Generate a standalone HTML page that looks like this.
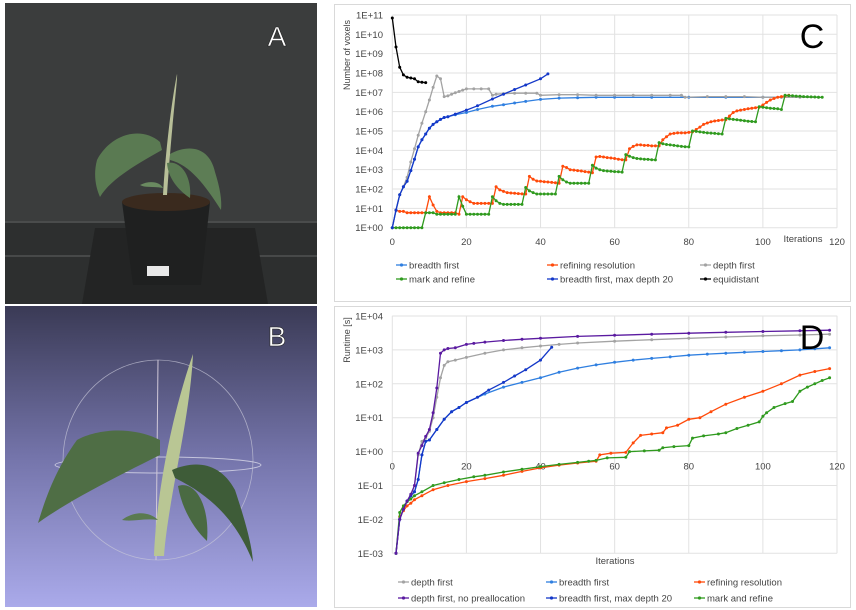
<!DOCTYPE html>
<html><head><meta charset="utf-8"><style>
html,body{margin:0;padding:0;background:#fff;}
svg{display:block;font-family:"Liberation Sans",sans-serif;}
</style></head><body>
<svg id="fig" width="856" height="610" viewBox="0 0 856 610" xmlns="http://www.w3.org/2000/svg">
<defs>
<linearGradient id="gB" x1="0" y1="0" x2="0" y2="1">
<stop offset="0" stop-color="#3a3a55"/><stop offset="0.5" stop-color="#7474aa"/><stop offset="1" stop-color="#aaaaea"/>
</linearGradient>
</defs>
<g>
<rect x="5" y="3" width="312" height="301" fill="#3b3d3d"/>
<rect x="5" y="222" width="312" height="82" fill="#2d2f2f"/>
<line x1="5" y1="222" x2="317" y2="222" stroke="#4a4c4c" stroke-width="2"/>
<line x1="5" y1="256" x2="317" y2="256" stroke="#505252" stroke-width="1.5"/>
<polygon points="95,228 255,228 268,304 82,304" fill="#232424"/>
<path d="M122,202 L210,202 L201,285 L133,285 Z" fill="#1f2020"/>
<ellipse cx="166" cy="202" rx="44" ry="9" fill="#3a2a1e"/>
<rect x="147" y="266" width="22" height="10" fill="#e8e8e8"/>
<path d="M163,195 C165,160 170,110 177,74 C178,78 172,120 167,195 Z" fill="#b8bf98"/>
<path d="M160,142 C140,125 110,135 97,160 C93,175 96,188 100,197 C110,180 135,165 162,150 Z" fill="#5a7a52"/>
<path d="M170,154 C190,143 210,148 215,172 C220,188 222,200 221,210 C205,185 190,165 170,160 Z" fill="#5d7d55"/>
<path d="M167,163 C180,160 192,175 190,198 C178,190 168,178 167,163 Z" fill="#5a7a52"/>
<path d="M140,185 C150,180 160,182 163,188 C152,186 145,188 140,185 Z" fill="#6a8a60"/>
<text x="277" y="46" font-size="28" fill="#fff" text-anchor="middle" stroke="#222" stroke-width="0.6">A</text>
</g>
<g>
<rect x="5" y="306" width="312" height="301" fill="url(#gB)"/>
<ellipse cx="158" cy="460" rx="95" ry="100" fill="none" stroke="#c8c8d8" stroke-width="0.8" opacity="0.7"/>
<ellipse cx="158" cy="465" rx="103" ry="8" fill="none" stroke="#d8d8e8" stroke-width="1" opacity="0.8"/>
<line x1="158" y1="360" x2="156" y2="560" stroke="#d0c8d8" stroke-width="1"/>
<path d="M154,556 C156,500 170,420 193,354 C190,420 168,500 164,556 Z" fill="#b9c694"/>
<path d="M160,440 C130,425 95,430 77,440 C55,470 45,500 38,523 C70,500 110,480 160,455 Z" fill="#4f6e45"/>
<path d="M172,470 C195,460 220,462 235,490 C245,520 252,545 253,562 C240,530 220,500 175,478 Z" fill="#3e5c38"/>
<path d="M178,486 C195,480 210,505 207,541 C195,530 182,510 178,486 Z" fill="#4a6a42"/>
<path d="M122,520 C135,510 150,512 158,520 C145,518 132,522 122,520 Z" fill="#5a7a50"/>
<text x="277" y="346" font-size="28" fill="#fff" text-anchor="middle" stroke="#222" stroke-width="0.6">B</text>
</g>
<rect x="334.5" y="4.5" width="516" height="297" fill="#fff" stroke="#d9d9d9"/>
<rect x="334.5" y="306.5" width="516" height="301" fill="#fff" stroke="#d9d9d9"/>
<g id="chartC"></g>
<g id="chartD"></g>
</svg>
<script>
const cXTicks=[0,20,40,60,80,100,120];
const cYTickLabels=["1E+00","1E+01","1E+02","1E+03","1E+04","1E+05","1E+06","1E+07","1E+08","1E+09","1E+10","1E+11"];
const cEquiX=[0,1,2,3,4,5,6,7,8,9];
const cEquiY=[7e10,2.2e9,2e8,8e7,6e7,5.5e7,5e7,3.5e7,3.3e7,3.2e7];
const cDepthX=[0,1,2,3,4,5,6,7,8,9,10,11,12,13,14,15,16,17,18,19,20,22,24,26,27,28,30,33,36,39,40,45,50,55,60,65,70,75,78,79,85,90,95,100,105,110,115];
const cDepthY=[1,8,50,130,400,2500,1.2e4,6e4,2.5e5,1e6,4e6,1.8e7,7e7,5e7,6e6,6.5e6,8e6,9.5e6,1.1e7,1.3e7,1.5e7,1.5e7,1.5e7,1.5e7,7e6,8e6,8.5e6,9e6,9e6,9e6,7e6,7.5e6,7.5e6,7e6,7e6,7e6,7e6,7e6,7e6,5.5e6,6e6,6e6,6e6,5.5e6,5.5e6,5.5e6,5.5e6];
const cBreadthX=[0,1,2,3,4,5,6,7,8,9,10,11,12,13,14,15,17,20,23,27,30,33,36,40,45,50,55,60,70,80,90,100,105];
const cBreadthY=[1,8,50,130,250,900,3500,1.5e4,3.5e4,7e4,1.4e5,2.2e5,3e5,4e5,5e5,5.5e5,7e5,9e5,1.3e6,1.9e6,2.3e6,2.8e6,3.4e6,4.3e6,5e6,5.3e6,5.5e6,5.5e6,5.5e6,5.5e6,5.5e6,5.5e6,5.5e6];
const cMaxX=[0,1,2,3,4,5,6,7,8,9,10,11,12,13,14,15,17,20,23,27,30,33,36,40,42];
const cMaxY=[1,8,50,130,250,900,3500,1.5e4,3.5e4,7e4,1.4e5,2.2e5,3e5,4e5,5e5,5.5e5,7.5e5,1.2e6,2e6,4.5e6,8e6,1.4e7,2.4e7,5e7,9e7];
const cRefineStart=1;
const cRefineY=[8,7,7,6,6,6,6,6,6,40,15,7,6,6,6,6,6,5,40,28,22,18,18,18,18,18,18,130,90,75,65,62,60,58,56,55,450,320,260,250,240,230,220,210,200,1500,1300,1000,950,900,850,800,750,700,4500,4800,4500,4200,4000,3800,3500,3300,3200,1.2e4,1.6e4,1.9e4,1.9e4,1.8e4,1.8e4,1.7e4,1.7e4,1.7e4,3.5e4,5e4,7e4,7.5e4,8e4,8e4,8e4,8.5e4,9e4,1.2e5,1.6e5,2.2e5,2.6e5,3e5,3.3e5,3.5e5,3.7e5,3.8e5,6e5,9e5,1.1e6,1.2e6,1.3e6,1.4e6,1.5e6,1.6e6,1.7e6,2.2e6,3e6,4e6,4.8e6,5.5e6,6e6,6.5e6,7e6];
const cMarkStart=0;
const cMarkY=[1,1,1,1,1,1,1,1,1,6,6,6,5,5,5,5,5,5,40,13,5,5,5,5,5,5,5,40,25,18,16,16,16,16,16,16,120,80,65,55,55,55,55,55,55,450,300,230,200,200,200,200,200,200,1700,1200,1000,900,850,820,800,780,750,6000,5000,4200,3800,3600,3500,3400,3300,3200,2.5e4,2.2e4,2e4,1.9e4,1.8e4,1.7e4,1.6e4,1.55e4,1.5e4,1e5,9.5e4,9e4,8.5e4,8e4,7.8e4,7.5e4,7.2e4,7e4,4.5e5,4.2e5,4e5,3.8e5,3.6e5,3.4e5,3.2e5,3.1e5,3e5,1.8e6,1.7e6,1.6e6,1.5e6,1.45e6,1.4e6,1.3e6,7e6,6.8e6,6.6e6,6.4e6,6.2e6,6e6,5.9e6,5.8e6,5.7e6,5.6e6,5.5e6];
const dXTicks=[0,20,40,60,80,100,120];
const dYTickLabels=["1E-03","1E-02","1E-01","1E+00","1E+01","1E+02","1E+03","1E+04"];
const dMarkX=[1,2,3,4,5,6,8,11,14,18,22,25,30,35,40,45,50,53,55,58,63,64,68,72,73,76,80,81,84,88,90,93,96,99,100,101,103,106,108,110,112,114,116,118];
const dMarkY=[1e-3,0.016,0.025,0.033,0.04,0.05,0.065,0.1,0.12,0.15,0.18,0.2,0.25,0.3,0.36,0.42,0.48,0.52,0.55,0.65,0.68,1.0,1.05,1.1,1.3,1.4,1.5,2.5,2.9,3.3,3.6,4.8,6,7.5,11,14,20,26,30,60,80,100,125,150];
const dRefX=[1,2,3,4,5,6,8,11,15,20,25,30,35,40,45,50,55,56,59,63,65,67,70,73,74,77,80,83,86,90,95,100,105,110,114,118];
const dRefY=[1e-3,0.012,0.018,0.025,0.03,0.038,0.05,0.075,0.1,0.13,0.16,0.2,0.26,0.33,0.4,0.46,0.52,0.8,0.9,0.95,1.8,3,3.3,3.6,5,6,9,10,15,25,40,60,100,180,230,280];
const dBreadthX=[1,2,3,4,5,6,7,8,9,10,12,14,16,18,20,25,30,35,40,45,50,55,60,65,70,75,80,85,90,95,100,105,110,114,118];
const dBreadthY=[1e-3,0.01,0.02,0.035,0.05,0.065,0.15,0.8,2,2.2,4.5,9,15,20,28,50,80,110,150,220,290,360,430,500,560,620,700,750,800,850,900,950,1000,1080,1150];
const dMaxX=[1,2,3,4,5,6,7,8,9,10,12,14,16,18,20,23,26,30,33,36,40,43];
const dMaxY=[1e-3,0.01,0.02,0.035,0.05,0.065,0.15,0.8,2,2.2,4.5,9,15,20,28,40,65,110,170,260,500,1200];
const dDepthX=[1,2,3,4,5,6,7,8,9,10,11,12,13,14,15,17,20,25,30,35,40,45,50,60,70,80,90,100,110,118];
const dDepthY=[1e-3,0.01,0.02,0.035,0.05,0.1,0.8,2,2.5,4,10,40,150,350,450,500,600,800,1000,1150,1300,1450,1600,1800,2000,2200,2400,2600,2750,2900];
const dPurpleX=[1,2,3,4,5,6,7,8,9,10,11,12,13,14,15,17,20,22,25,30,35,40,50,60,70,80,90,100,110,118];
const dPurpleY=[1e-3,0.01,0.02,0.035,0.055,0.1,0.9,1.5,2.8,4.5,14,75,800,1000,1100,1150,1450,1550,1700,1900,2050,2200,2500,2700,2900,3100,3300,3500,3650,3800];

const NS="http://www.w3.org/2000/svg";
function mk(tag,attrs,parent){const e=document.createElementNS(NS,tag);for(const k in attrs)e.setAttribute(k,attrs[k]);parent.appendChild(e);return e;}
const X0=392.3,X1=837;
function xs(i){return X0+i*(X1-X0)/120;}
function yC(v){return 227.7-Math.log10(v)*19.34;}
function yD(v){return 553.3-(Math.log10(v)+3)*33.9;}
function seq(start,n){const a=[];for(let i=0;i<n;i++)a.push(start+i);return a;}
function drawSeries(g,xArr,yArr,yf,color,name){
  const sg=mk('g',{},g);
  
  
  let d='';
  for(let i=0;i<xArr.length;i++){d+=(i?'L':'M')+xs(xArr[i]).toFixed(1)+','+yf(yArr[i]).toFixed(1);}
  mk('path',{d:d,fill:'none',stroke:color,'stroke-width':1.3},sg);
  for(let i=0;i<xArr.length;i++){
    const c=mk('circle',{cx:xs(xArr[i]).toFixed(1),cy:yf(yArr[i]).toFixed(1),r:1.5,fill:color},sg);
    
    
  }
}
function legend(g,x,y,color,label){
  const lg=mk('g',{},g);
  
  
  mk('line',{x1:x,y1:y,x2:x+11,y2:y,stroke:color,'stroke-width':1.3},lg);
  mk('circle',{cx:x+5.5,cy:y,r:1.6,fill:color},lg);
  const t=mk('text',{x:x+13,y:y+3.5,'font-size':9.5,fill:'#444'},lg);t.textContent=label;
}
function axes(g,yf,labels,minExp){
  for(let k=0;k<labels.length;k++){
    const v=Math.pow(10,minExp+k),y=yf(v);
    const gl=mk('line',{x1:X0,y1:y,x2:X1,y2:y,stroke:'#e2e2e2','stroke-width':1},g);
    
    
    const t=mk('text',{x:383,y:y+3.5,'font-size':9.5,fill:'#444','text-anchor':'end'},g);
    
    
    t.textContent=labels[k];
  }
}
const C=document.getElementById('chartC');
const D=document.getElementById('chartD');
const BLUE='#2f7fe0',DBLUE='#1438c8',ORANGE='#ff4a0a',GREEN='#2f9a1e',GRAY='#a3a3a3',BLACK='#000',PURPLE='#5a1aa0';
axes(C,yC,cYTickLabels,0);
cXTicks.forEach(v=>{
  const gl=mk('line',{x1:xs(v),y1:15,x2:xs(v),y2:227.7,stroke:'#e2e2e2'},C);
  
  
  const t=mk('text',{x:xs(v),y:245,'font-size':9.5,fill:'#444','text-anchor':'middle'},C);
  
  
  t.textContent=String(v);
});
{const t=mk('text',{x:803,y:242,'font-size':9.5,fill:'#444','text-anchor':'middle'},C);t.textContent='Iterations';}
{const t=mk('text',{x:0,y:0,'font-size':9,fill:'#444','text-anchor':'middle',transform:'translate(350,55) rotate(-90)'},C);t.textContent='Number of voxels';}
drawSeries(C,cBreadthX,cBreadthY,yC,BLUE,'series-breadth-first');
drawSeries(C,cDepthX,cDepthY,yC,GRAY,'series-depth-first');
drawSeries(C,seq(cRefineStart,cRefineY.length),cRefineY,yC,ORANGE,'series-refining-resolution');
drawSeries(C,seq(cMarkStart,cMarkY.length),cMarkY,yC,GREEN,'series-mark-and-refine');
drawSeries(C,cMaxX,cMaxY,yC,DBLUE,'series-breadth-first-max-depth-20');
drawSeries(C,cEquiX,cEquiY,yC,BLACK,'series-equidistant');
{const t=mk('text',{x:812,y:48,'font-size':34,fill:'#000','text-anchor':'middle'},C);t.textContent='C';}
legend(C,396,265,BLUE,'breadth first');
legend(C,547,265,ORANGE,'refining resolution');
legend(C,700,265,GRAY,'depth first');
legend(C,396,279,GREEN,'mark and refine');
legend(C,547,279,DBLUE,'breadth first, max depth 20');
legend(C,700,279,BLACK,'equidistant');
axes(D,yD,dYTickLabels,-3);
dXTicks.forEach(v=>{
  const gl=mk('line',{x1:xs(v),y1:315.7,x2:xs(v),y2:553.3,stroke:'#e2e2e2'},D);
  
  
  const t=mk('text',{x:xs(v),y:469.5,'font-size':9.5,fill:'#444','text-anchor':'middle'},D);
  
  
  t.textContent=String(v);
});
{const t=mk('text',{x:615,y:564,'font-size':9.5,fill:'#444','text-anchor':'middle'},D);t.textContent='Iterations';}
{const t=mk('text',{x:0,y:0,'font-size':9,fill:'#444','text-anchor':'middle',transform:'translate(350,340) rotate(-90)'},D);t.textContent='Runtime [s]';}
drawSeries(D,dDepthX,dDepthY,yD,GRAY,'series-depth-first');
drawSeries(D,dBreadthX,dBreadthY,yD,BLUE,'series-breadth-first');
drawSeries(D,dRefX,dRefY,yD,ORANGE,'series-refining-resolution');
drawSeries(D,dMarkX,dMarkY,yD,GREEN,'series-mark-and-refine');
drawSeries(D,dMaxX,dMaxY,yD,DBLUE,'series-breadth-first-max-depth-20');
drawSeries(D,dPurpleX,dPurpleY,yD,PURPLE,'series-depth-first-no-preallocation');
{const t=mk('text',{x:812,y:349,'font-size':34,fill:'#000','text-anchor':'middle'},D);t.textContent='D';}
legend(D,398,582,GRAY,'depth first');
legend(D,546,582,BLUE,'breadth first');
legend(D,694,582,ORANGE,'refining resolution');
legend(D,398,598,PURPLE,'depth first, no preallocation');
legend(D,546,598,DBLUE,'breadth first, max depth 20');
legend(D,694,598,GREEN,'mark and refine');
</script>
</body></html>
